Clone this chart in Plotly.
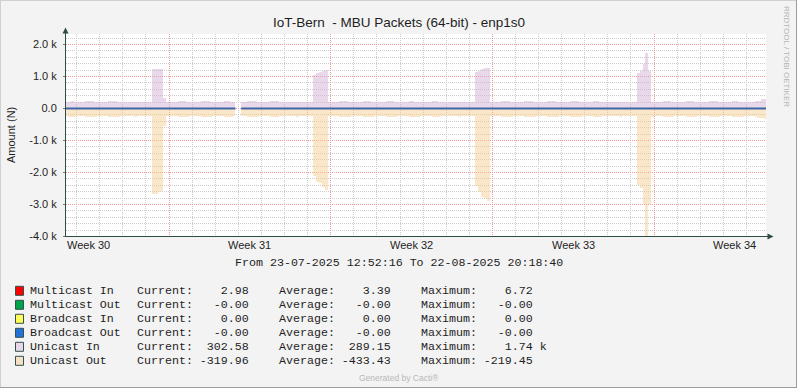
import plotly.graph_objects as go
import pandas as pd

# ---------------- data ----------------
range_start = "2025-07-23 12:52:16"
range_end = "2025-08-22 20:18:40"
# 3-hour samples starting 2025-07-23 12:00 (one value per sample, None = no data)
times = pd.date_range("2025-07-23 12:00", "2025-08-22 21:00", freq="3h")
step_ms = 3 * 3600 * 1000

unicast_in = [
    214, 218, 221, 216,                              # Jul 23 (12h..21h)
    212, 208, 209, 219, 223, 220, 217, 213,          # Jul 24
    210, 207, 211, 221, 226, 219, 215, 212,          # Jul 25
    209, 206, 208, 215, 218, 214, 212, 210,          # Jul 26
    207, 205, 1220, 1230, 1230, 1220, 330, 214,      # Jul 27
    210, 207, 210, 220, 225, 221, 216, 212,          # Jul 28
    209, 206, 211, 222, 227, 220, 216, 211,          # Jul 29
    208, 205, 210, 219, 224, 218, 213, None,         # Jul 30
    None, 206, 210, 221, 226, 220, 215, 211,         # Jul 31
    208, 205, 209, 220, 224, 219, 214, 210,          # Aug 1
    207, 205, 208, 214, 217, 213, 211, 209,          # Aug 2
    206, 204, 1050, 1100, 1140, 1180, 1200, 215,     # Aug 3
    210, 206, 211, 221, 226, 220, 215, 211,          # Aug 4
    208, 205, 210, 222, 228, 221, 216, 212,          # Aug 5
    209, 206, 210, 220, 225, 219, 214, 210,          # Aug 6
    208, 205, 209, 221, 224, 218, 215, 211,          # Aug 7
    207, 204, 208, 219, 223, 217, 213, 209,          # Aug 8
    206, 204, 207, 213, 216, 212, 210, 208,          # Aug 9
    206, 203, 1140, 1180, 1220, 1260, 1280, 216,     # Aug 10
    210, 206, 211, 222, 227, 221, 216, 212,          # Aug 11
    209, 206, 210, 221, 225, 220, 215, 211,          # Aug 12
    208, 205, 209, 220, 224, 219, 214, 210,          # Aug 13
    208, 205, 210, 221, 226, 219, 215, 211,          # Aug 14
    207, 204, 209, 219, 223, 217, 213, 209,          # Aug 15
    206, 204, 207, 214, 217, 213, 210, 208,          # Aug 16
    205, 203, 1120, 1160, 1400, 1740, 1170, 214,     # Aug 17
    210, 206, 211, 221, 226, 220, 216, 212,          # Aug 18
    209, 206, 210, 222, 227, 221, 215, 211,          # Aug 19
    208, 205, 210, 220, 225, 219, 214, 210,          # Aug 20
    208, 205, 209, 221, 224, 218, 214, 210,          # Aug 21
    207, 205, 212, 224, 236, 290, 302.58, 302.58,    # Aug 22
]

unicast_out = [
    -245, -252, -258, -250,                                  # Jul 23
    -240, -232, -236, -262, -270, -258, -250, -244,          # Jul 24
    -238, -228, -237, -265, -274, -260, -251, -243,          # Jul 25
    -236, -226, -230, -248, -255, -246, -241, -237,          # Jul 26
    -233, -225, -2680, -2660, -2600, -2580, -560, -246,      # Jul 27
    -240, -231, -238, -266, -276, -262, -252, -245,          # Jul 28
    -238, -229, -237, -268, -278, -263, -253, -244,          # Jul 29
    -237, -228, -236, -264, -272, -259, -249, None,          # Jul 30
    None, -229, -237, -266, -275, -261, -250, -243,          # Jul 31
    -237, -227, -235, -263, -271, -258, -248, -241,          # Aug 1
    -234, -224, -229, -246, -253, -244, -239, -235,          # Aug 2
    -232, -221, -2100, -2310, -2330, -2450, -2540, -248,     # Aug 3
    -241, -231, -239, -267, -277, -263, -252, -245,          # Aug 4
    -239, -229, -238, -269, -280, -264, -254, -246,          # Aug 5
    -238, -228, -237, -266, -274, -261, -251, -243,          # Aug 6
    -237, -228, -236, -267, -275, -260, -250, -244,          # Aug 7
    -236, -226, -234, -262, -270, -257, -247, -240,          # Aug 8
    -233, -223, -228, -245, -252, -243, -238, -234,          # Aug 9
    -231, -219.45, -2420, -2600, -2760, -2800, -2890, -249,  # Aug 10
    -242, -232, -240, -268, -279, -264, -253, -246,          # Aug 11
    -240, -230, -238, -267, -277, -262, -252, -245,          # Aug 12
    -239, -229, -237, -265, -274, -260, -250, -243,          # Aug 13
    -238, -229, -238, -267, -276, -261, -251, -244,          # Aug 14
    -236, -226, -235, -263, -271, -258, -248, -241,          # Aug 15
    -233, -224, -229, -246, -254, -244, -239, -235,          # Aug 16
    -231, -222, -2400, -2480, -2980, -4200, -2980, -250,     # Aug 17
    -242, -232, -240, -269, -279, -264, -254, -246,          # Aug 18
    -240, -230, -239, -268, -278, -263, -252, -245,          # Aug 19
    -239, -229, -237, -266, -275, -261, -251, -244,          # Aug 20
    -238, -228, -237, -267, -276, -261, -250, -243,          # Aug 21
    -236, -227, -240, -272, -285, -305, -319.96, -319.96,    # Aug 22
]

# Broadcast Out is -0.00 throughout; drawn as a step line on the zero axis.
# A step ("hv") line ends at the next sample, so the break is the 00:00 sample.
broadcast_out = [0.0] * 60 + [None] + [0.0] * 183

week_label_times = ["2025-07-24 12:00", "2025-07-31 12:00", "2025-08-07 12:00",
                    "2025-08-14 12:00", "2025-08-21 12:00"]
week_labels = ["Week 30", "Week 31", "Week 32", "Week 33", "Week 34"]
week_start_times = ["2025-07-28", "2025-08-04", "2025-08-11", "2025-08-18"]

y_tick_vals = [-4000, -3000, -2000, -1000, 0, 1000, 2000]
y_tick_text = ["-4.0 k", "-3.0 k", "-2.0 k", "-1.0 k", "0.0", "1.0 k", "2.0 k"]
y_range = [-4015.625, 2328.125]

legend_names = ["Multicast In", "Multicast Out", "Broadcast In", "Broadcast Out",
                "Unicast In", "Unicast Out"]
legend_colors = ["#FF0000", "#00A24A", "#FFFF5C", "#2272D8", "#E6D8E8", "#F5E2C6"]
legend_current = ["2.98", "-0.00", "0.00", "-0.00", "302.58", "-319.96"]
legend_average = ["3.39", "-0.00", "0.00", "-0.00", "289.15", "-433.43"]
legend_maximum = ["6.72", "-0.00", "0.00", "-0.00", "1.74 k", "-219.45"]

title_text = "IoT-Bern  - MBU Packets (64-bit) - enp1s0"
y_title = "Amount (N)"
period_text = "From 23-07-2025 12:52:16 To 22-08-2025 20:18:40"

# grid positions: daily (minor) except week starts, 200 steps (minor) except 1000s
day_grid = [d for d in pd.date_range("2025-07-24", "2025-08-22", freq="D") if d.weekday() != 0]
y_minor_grid = [v for v in range(-4000, 2400, 200) if v % 1000 != 0]

# ---------------- layout geometry ----------------
W, H = 797, 388
L, R, T, B = 66, 31, 34, 151
PW, PH = W - L - R, H - T - B


def px(x):
    return (x - L) / PW


def py(y):
    return (H - B - y) / PH


SANS = "Liberation Sans, Arial, sans-serif"
MONO = "Liberation Mono, Courier New, monospace"
AXIS_COL = "#2E4E45"
TXT = "#1E1E1E"
AX_Y = 236.5  # pixel row of the bottom axis

fig = go.Figure()
fig.add_trace(go.Bar(x=times, y=unicast_in, width=step_ms, offset=0,
                     marker=dict(color="rgba(210,178,214,0.5)", line=dict(width=0)),
                     hoverinfo="skip", showlegend=False))
fig.add_trace(go.Bar(x=times, y=unicast_out, width=step_ms, offset=0,
                     marker=dict(color="rgba(245,206,148,0.5)", line=dict(width=0)),
                     hoverinfo="skip", showlegend=False))
fig.add_trace(go.Scatter(x=times, y=broadcast_out, mode="lines",
                         line=dict(width=2, shape="hv", color="#3D66A6"),
                         connectgaps=False, hoverinfo="skip", showlegend=False))

annotations = [
    dict(text=title_text, x=px(398.5), y=py(23), font=dict(family=SANS, size=13.5, color=TXT),
         xanchor="center", yanchor="middle"),
    dict(text=y_title, x=px(11), y=py(135), textangle=-90,
         font=dict(family=SANS, size=11, color=TXT), xanchor="center", yanchor="middle"),
    dict(text="RRDTOOL / TOBI OETIKER", x=px(787), y=py(56), textangle=90,
         font=dict(family=SANS, size=8, color="#B4B4B4"), xanchor="center", yanchor="middle"),
    dict(text=period_text, x=px(398.5), y=py(262.5),
         font=dict(family=MONO, size=11.65, color=TXT), xanchor="center", yanchor="middle"),
    dict(text="Generated by Cacti®", x=px(398.5), y=py(377.5),
         font=dict(family=SANS, size=8.5, color="#B8B8B8"), xanchor="center", yanchor="middle"),
]
for a in annotations:
    a.update(xref="paper", yref="paper")

# week labels placed on the time axis
for t, lab in zip(week_label_times, week_labels):
    annotations.append(dict(text=lab, x=t, xref="x", y=py(245), yref="paper",
                            font=dict(family=SANS, size=11, color=TXT),
                            xanchor="center", yanchor="middle"))

shapes = []
for k, name in enumerate(legend_names):
    yc = 290.8 + 14 * k
    shapes.append(dict(type="rect", xref="paper", yref="paper",
                       x0=px(15.5), x1=px(23.5), y0=py(yc - 4.5), y1=py(yc + 4.5),
                       fillcolor=legend_colors[k], line=dict(color="#34504A", width=1)))
    mono = dict(family=MONO, size=11.65, color=TXT)
    maxv = legend_maximum[k]
    suffix = ""
    if maxv.endswith(" k"):
        maxv, suffix = maxv[:-2], " k"
    for xx, txt in [(30, name),
                    (137, "Current:" + legend_current[k].rjust(8)),
                    (279, "Average:" + legend_average[k].rjust(8)),
                    (421, "Maximum:" + maxv.rjust(8) + suffix)]:
        annotations.append(dict(text=txt, x=px(xx), y=py(yc), font=mono, xref="paper",
                                yref="paper", xanchor="left", yanchor="middle"))

for a in annotations:
    a.update(showarrow=False, borderpad=0, borderwidth=0)

# axis lines + arrows, image frame
shapes += [
    dict(type="line", xref="paper", yref="paper", x0=px(65.5), x1=px(65.5), y0=py(AX_Y), y1=py(31),
         line=dict(color=AXIS_COL, width=1)),
    dict(type="path", xref="paper", yref="paper",
         path=f"M {px(65.5)},{py(27.5)} L {px(62.5)},{py(33.5)} L {px(68.5)},{py(33.5)} Z",
         fillcolor=AXIS_COL, line=dict(width=0)),
    dict(type="line", xref="paper", yref="paper", x0=px(65), x1=px(770), y0=py(AX_Y), y1=py(AX_Y),
         line=dict(color=AXIS_COL, width=1)),
    dict(type="path", xref="paper", yref="paper",
         path=f"M {px(773.5)},{py(AX_Y)} L {px(767.5)},{py(AX_Y - 3)} L {px(767.5)},{py(AX_Y + 3)} Z",
         fillcolor=AXIS_COL, line=dict(width=0)),
    dict(type="line", xref="paper", yref="paper", x0=px(0), x1=px(797), y0=py(0.5), y1=py(0.5),
         line=dict(color="#D0D0D0", width=1)),
    dict(type="line", xref="paper", yref="paper", x0=px(0.5), x1=px(0.5), y0=py(0), y1=py(388),
         line=dict(color="#D0D0D0", width=1)),
    dict(type="line", xref="paper", yref="paper", x0=px(0), x1=px(797), y0=py(387.5), y1=py(387.5),
         line=dict(color="#9C9C9C", width=1)),
    dict(type="line", xref="paper", yref="paper", x0=px(796.5), x1=px(796.5), y0=py(0), y1=py(388),
         line=dict(color="#9C9C9C", width=1)),
]

GRID_RED = "#EE9A9A"
GRID_GRAY = "#CBCBCB"

fig.update_layout(
    width=W, height=H,
    margin=dict(l=L, r=R, t=T, b=B, pad=0),
    paper_bgcolor="#F3F3F3",
    plot_bgcolor="#FFFFFF",
    showlegend=False,
    barmode="overlay", bargap=0, bargroupgap=0,
    font=dict(family=SANS, size=11, color=TXT),
    annotations=annotations,
    shapes=shapes,
    xaxis=dict(
        type="date", range=[range_start, range_end],
        tickmode="array", tickvals=week_start_times, showticklabels=False, ticks="",
        showgrid=True, gridcolor=GRID_RED, griddash="1px,1px", gridwidth=1,
        minor=dict(tickmode="array", tickvals=day_grid, showgrid=True,
                   gridcolor=GRID_GRAY, griddash="1px,1px", gridwidth=1, ticks=""),
        showline=False, zeroline=False, fixedrange=True, automargin=False,
    ),
    yaxis=dict(
        range=y_range, tickmode="array", tickvals=y_tick_vals, ticktext=y_tick_text,
        tickfont=dict(family=SANS, size=11, color=TXT),
        ticks="outside", ticklen=2, tickcolor="#777777", ticklabelstandoff=4,
        showgrid=True, gridcolor=GRID_RED, griddash="1px,1px", gridwidth=1,
        minor=dict(tickmode="array", tickvals=y_minor_grid, showgrid=True,
                   gridcolor=GRID_GRAY, griddash="1px,1px", gridwidth=1, ticks=""),
        zeroline=False, showline=False, fixedrange=True, automargin=False,
    ),
)

fig.write_html("out.html", config={"displayModeBar": False, "staticPlot": True},
               post_script="document.body.style.margin='0';document.body.style.padding='0';")
